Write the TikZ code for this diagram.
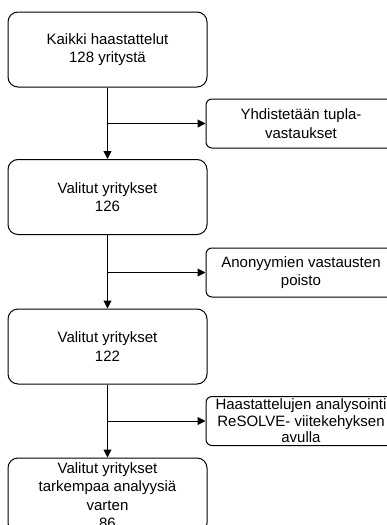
\documentclass[tikz,border=0pt]{standalone}
\usepackage{fontspec}
\setmainfont{Liberation Sans}
\usetikzlibrary{arrows.meta}
\tikzset{
  mainbox/.style={draw,rounded corners=10pt,minimum width=199pt,minimum height=75pt,inner sep=0pt},
  sidebox/.style={draw,rounded corners=6pt,minimum width=190pt,minimum height=49pt,inner sep=0pt},
  flow/.style={-{Triangle[length=8pt,width=8pt]}}
}
\begin{document}
\begin{tikzpicture}[x=1pt,y=-1pt,line width=1pt,
  every node/.style={font=\fontsize{15}{18.5}\selectfont,align=center}]
\path[use as bounding box,fill=white] (0,0) rectangle (387,525);
\clip (0,0) rectangle (387,525);
% main flow
\node[mainbox] (b1) at (107.5,49.5) {Kaikki haastattelut\\128 yritystä};
\node[mainbox] (b2) at (107.5,197) {Valitut yritykset\\126};
\node[mainbox] (b3) at (107.5,346.5) {Valitut yritykset\\122};
\node[mainbox] (b4) at (107.5,495.5) {Valitut yritykset\\tarkempaa analyysiä\\varten\\86};
% side steps
\node[sidebox] (s1) at (301,123.5) {Yhdistetään tupla-\\vastaukset};
\node[sidebox] (s2) at (301,272.5) {Anonyymien vastausten\\poisto};
\node[sidebox,font=\fontsize{15}{16.5}\selectfont] (s3) at (301,421) {Haastattelujen analysointi\\ReSOLVE- viitekehyksen\\avulla};
\foreach \a/\b/\s in {b1/b2/s1,b2/b3/s2,b3/b4/s3} {
  \draw[flow] (\a) -- (\b);
  \draw[flow] (\a.south |- \s.west) -- (\s.west);
}
\end{tikzpicture}
\end{document}
